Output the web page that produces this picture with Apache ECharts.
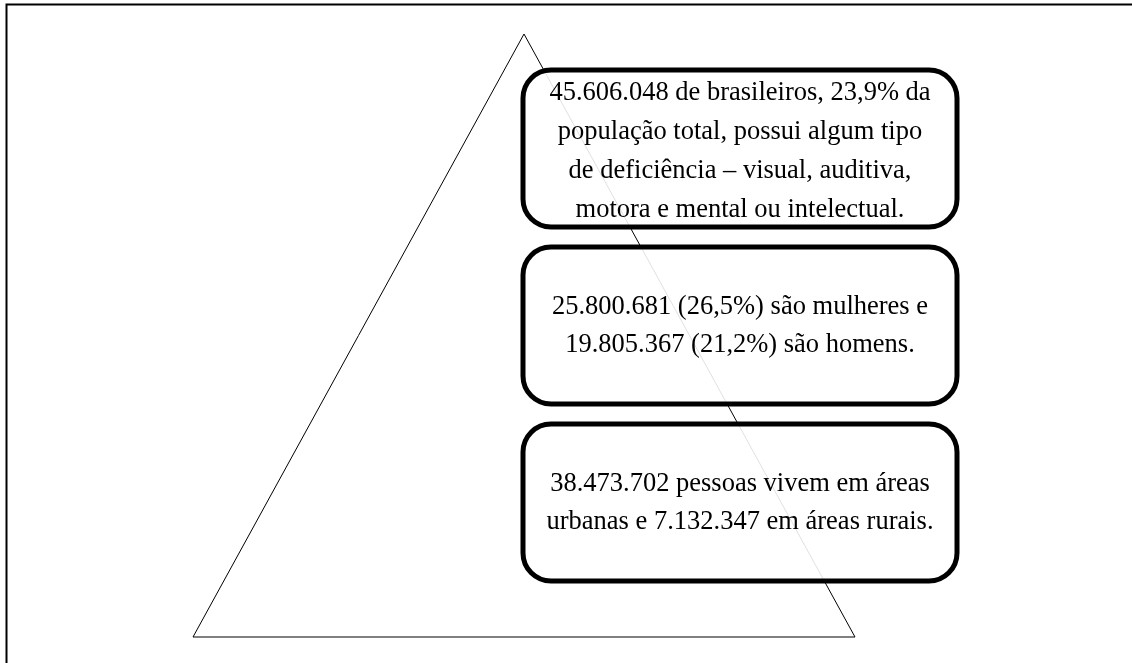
<!DOCTYPE html>
<html>
<head>
<meta charset="utf-8">
<script src="https://cdn.jsdelivr.net/npm/echarts@6/dist/echarts.min.js"></script>
<style>
html,body{margin:0;padding:0;background:#fff;}
#chart{width:1132px;height:663px;}
</style>
</head>
<body>
<div id="chart"></div>
<script>
// Text content of the three boxes (top to bottom)
const box1Lines = [
  "45.606.048 de brasileiros, 23,9% da",
  "população total, possui algum tipo",
  "de deficiência – visual, auditiva,",
  "motora e mental ou intelectual."
];
const box2Lines = [
  "25.800.681 (26,5%) são mulheres e",
  "19.805.367 (21,2%) são homens."
];
const box3Lines = [
  "38.473.702 pessoas vivem em áreas",
  "urbanas e 7.132.347 em áreas rurais."
];
const boxes = [box1Lines, box2Lines, box3Lines];

const chart = echarts.init(document.getElementById('chart'), null, {renderer: 'canvas'});

// layout
const boxLeft = 523, boxWidth = 434, boxHeight = 157;
const boxTops = [70, 247, 424];
const textOffsets = [3, 1, 1];
const lineHeights = [39, 38, 38];
const fontFamily = '"Liberation Serif", "Times New Roman", serif';
const fontSize = 26.5;

const elements = [];
// frame
elements.push({
  type: 'polyline', z: 1,
  shape: { points: [[6.5, 663], [6.5, 4.5], [1132, 4.5]] },
  style: { stroke: '#000', lineWidth: 2, fill: null }
});
// triangle
elements.push({
  type: 'polygon', z: 2,
  shape: { points: [[524, 34], [193, 637], [855, 637]] },
  style: { stroke: '#000', lineWidth: 1, fill: null }
});
boxes.forEach((lines, i) => {
  const top = boxTops[i];
  elements.push({
    type: 'rect', z: 3,
    shape: { x: boxLeft, y: top, width: boxWidth, height: boxHeight, r: 28 },
    style: { fill: 'rgba(255,255,255,0.88)', stroke: '#000', lineWidth: 5 }
  });
  elements.push({
    type: 'text', z: 4,
    x: boxLeft + boxWidth / 2,
    y: top + boxHeight / 2 + textOffsets[i],
    style: {
      text: lines.join('\n'),
      fill: '#000',
      fontFamily: fontFamily,
      fontSize: fontSize,
      lineHeight: lineHeights[i],
      align: 'center',
      verticalAlign: 'middle'
    }
  });
});

chart.setOption({
  animation: false,
  backgroundColor: '#fff',
  graphic: { elements: elements }
});
</script>
</body>
</html>
